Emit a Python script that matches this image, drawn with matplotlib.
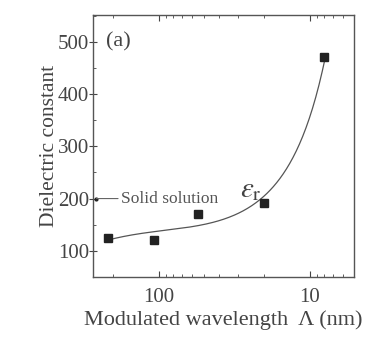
import matplotlib.pyplot as plt
import numpy as np
from matplotlib.ticker import MultipleLocator, LogLocator, FixedLocator, NullFormatter

plt.rcParams['font.family'] = ['Liberation Serif', 'DejaVu Serif']
plt.rcParams['mathtext.fontset'] = 'stix'

# data
wavelength = [215, 108, 55, 20, 8]        # nm
eps_r = [125, 121, 170, 192, 470]
solid_x = 258
solid_y = 200

# guide curve: cubic fit of log(eps) vs log(wavelength)
xw = np.log10(np.array(wavelength, float))
yw = np.array(eps_r, float)
coef = np.polyfit(xw, np.log10(yw), 3)
xf = np.logspace(np.log10(max(wavelength)), np.log10(min(wavelength)), 200)
yf = 10 ** np.polyval(coef, np.log10(xf))

fig = plt.figure(figsize=(3.65, 3.4), dpi=100)
ax = fig.add_axes([93/365, 1-277/340, (354-93)/365, (277-15)/340])

ax.plot(xf, yf, color='#555555', lw=0.9)
ax.plot(wavelength, eps_r, 's', color='#222222', ms=6)
ax.plot([solid_x], [solid_y], 'o', color='#222222', ms=2)

ax.set_xscale('log')
ax.set_xlim(272, 5.1)
ax.set_ylim(50, 551)
ax.xaxis.set_major_locator(FixedLocator([100, 10]))
ax.xaxis.set_major_formatter(plt.FuncFormatter(lambda v, p: '%d' % v))
ax.xaxis.set_minor_locator(LogLocator(base=10, subs=np.arange(2, 10)))
ax.xaxis.set_minor_formatter(NullFormatter())
ax.yaxis.set_major_locator(MultipleLocator(100))
ax.yaxis.set_minor_locator(MultipleLocator(50))
ax.set_yticks([100, 200, 300, 400, 500])

ax.tick_params(which='both', direction='in', top=True, right=False,
               labelsize=15, colors='#444444')
ax.tick_params(axis='y', which='major', direction='inout', length=6, pad=0)
ax.tick_params(axis='x', which='major', length=4, pad=8)
ax.tick_params(which='minor', length=2)
for s in ax.spines.values():
    s.set_color('#555555')
    s.set_linewidth(1.0)

ax.set_xlabel('Modulated wavelength  \u039b (nm)', fontsize=16, color='#444444', labelpad=2)
ax.set_ylabel('Dielectric constant', fontsize=15.5, color='#444444')
ax.yaxis.set_label_coords(-0.13, 0.5)

ax.text(0.05, 0.897, '(a)', transform=ax.transAxes, fontsize=16, color='#444444', va='center')
ax.annotate('Solid solution', xy=(solid_x, solid_y), xytext=(178, solid_y),
            fontsize=12.5, color='#555555', va='center',
            arrowprops=dict(arrowstyle='-', color='#666666', lw=0.8, shrinkA=0, shrinkB=0))
ax.text(29, 203, r'$\varepsilon_{\mathrm{r}}$', fontsize=21, color='#444444')

fig.savefig('out.png', dpi=100)
